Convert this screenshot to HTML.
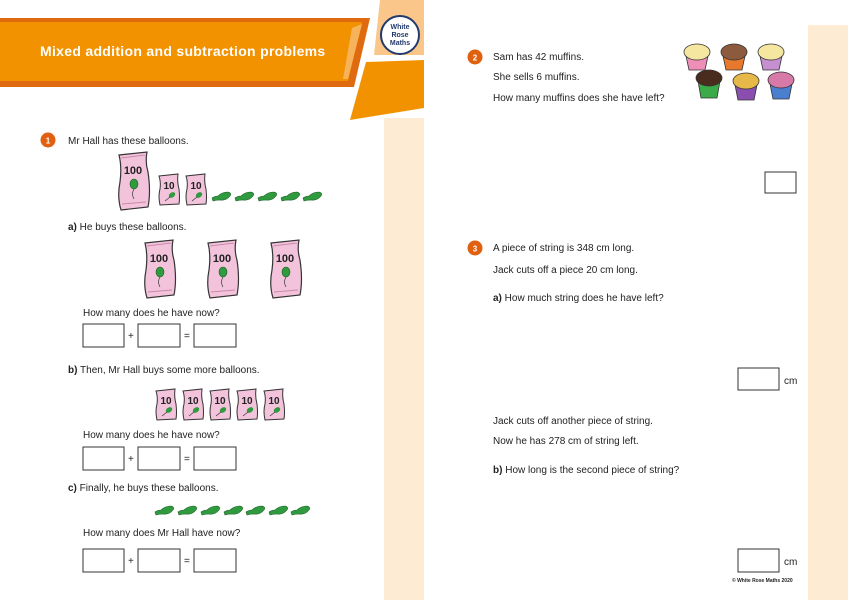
<!DOCTYPE html>
<html><head><meta charset="utf-8"><style>
html,body{margin:0;padding:0;background:#fff}
svg{display:block}
text{font-family:"Liberation Sans",sans-serif;font-size:10px;fill:#222}
</style></head><body>
<svg width="850" height="600" viewBox="0 0 850 600" xmlns="http://www.w3.org/2000/svg">
<defs>
<g id="big">
<path d="M2,3 L30,0 Q28,10 31,20 Q34,40 31,55 L4,58 Q0,45 3,30 Q5,15 2,3Z" fill="#f3c3dc" stroke="#333" stroke-width="1.2"/>
<path d="M4,6 L28,3" stroke="#c98aa9" stroke-width="1"/>
<path d="M5,52 L29,50" stroke="#c98aa9" stroke-width="1"/>
<text x="16" y="22" text-anchor="middle" style="font-size:11px;font-weight:bold;fill:#222">100</text>
<ellipse cx="17" cy="32" rx="4" ry="5" fill="#2f9a3e" stroke="#1d5e26" stroke-width=".6"/>
<path d="M17,37 Q14,42 17,47" stroke="#333" fill="none" stroke-width=".7"/>
</g>
<g id="small">
<path d="M1,2 L20,0 Q19,8 21,15 Q22,24 21,30 L2,31 Q0,22 2,15 Q3,8 1,2Z" fill="#f3c3dc" stroke="#333" stroke-width="1"/>
<text x="11" y="15" text-anchor="middle" style="font-size:10px;font-weight:bold;fill:#222">10</text>
<ellipse cx="14" cy="21" rx="3.5" ry="2.5" fill="#2f9a3e" transform="rotate(-35 14 21)"/>
<path d="M12,23 L7,27" stroke="#333" stroke-width=".7"/>
</g>
<g id="bal">
<path d="M0,6 Q3,4 6,4 Q10,0 16,0 Q20,1 18,4 Q14,9 8,8 Q4,8 1,9Z" fill="#2f9a3e" stroke="#1d5e26" stroke-width=".6"/>
</g>
</defs>

<!-- side strips -->
<rect x="384" y="118" width="40" height="482" fill="#fdebd3"/>
<rect x="808" y="25" width="40" height="575" fill="#fdebd3"/>

<!-- header shapes -->
<polygon points="380,0 424,0 424,55 374,55" fill="#fbc689"/>
<polygon points="366,62 424,60 424,108 350,120" fill="#f39200"/>
<polygon points="0,18 370,18 354,87 0,87" fill="#e06a10"/>
<polygon points="0,22 362,22 348,81 0,81" fill="#f39200"/>
<polygon points="352,28 362,24 348,79 343,79" fill="#f7b35a"/>
<text x="40" y="56" style="font-size:14px;font-weight:bold;fill:#fff;letter-spacing:.3px">Mixed addition and subtraction problems</text>
<circle cx="400" cy="35" r="19" fill="#fff" stroke="#233a6e" stroke-width="2"/>
<text x="400" y="29" text-anchor="middle" style="font-size:7px;font-weight:bold;fill:#233a6e">White</text>
<text x="400" y="37" text-anchor="middle" style="font-size:7px;font-weight:bold;fill:#233a6e">Rose</text>
<text x="400" y="45" text-anchor="middle" style="font-size:7px;font-weight:bold;fill:#233a6e">Maths</text>

<!-- Q1 -->
<circle cx="48" cy="140" r="7.5" fill="#e0600f"/>
<text x="48" y="143.5" text-anchor="middle" style="font-size:8px;font-weight:bold;fill:#fff">1</text>
<text x="68" y="144">Mr Hall has these balloons.</text>
<use href="#big" x="117" y="152"/>
<use href="#small" x="158" y="174"/>
<use href="#small" x="185" y="174"/>
<use href="#bal" x="212" y="192"/><use href="#bal" x="235" y="192"/><use href="#bal" x="258" y="192"/><use href="#bal" x="281" y="192"/><use href="#bal" x="303" y="192"/>

<text x="68" y="230"><tspan style="font-weight:bold">a)</tspan>  He buys these balloons.</text>
<use href="#big" x="143" y="240"/>
<use href="#big" x="206" y="240"/>
<use href="#big" x="269" y="240"/>
<text x="83" y="316">How many does he have now?</text>
<g fill="#fff" stroke="#333" stroke-width="1">
<rect x="83" y="324" width="41" height="23"/><rect x="138" y="324" width="42" height="23"/><rect x="194" y="324" width="42" height="23"/>
<rect x="83" y="447" width="41" height="23"/><rect x="138" y="447" width="42" height="23"/><rect x="194" y="447" width="42" height="23"/>
<rect x="83" y="549" width="41" height="23"/><rect x="138" y="549" width="42" height="23"/><rect x="194" y="549" width="42" height="23"/>
<rect x="765" y="172" width="31" height="21"/>
<rect x="738" y="368" width="41" height="22"/>
<rect x="738" y="549" width="41" height="23"/>
</g>
<text x="128" y="339">+</text><text x="184" y="339">=</text>
<text x="128" y="462">+</text><text x="184" y="462">=</text>
<text x="128" y="564">+</text><text x="184" y="564">=</text>

<text x="68" y="373"><tspan style="font-weight:bold">b)</tspan>  Then, Mr Hall buys some more balloons.</text>
<use href="#small" x="155" y="389"/><use href="#small" x="182" y="389"/><use href="#small" x="209" y="389"/><use href="#small" x="236" y="389"/><use href="#small" x="263" y="389"/>
<text x="83" y="438">How many does he have now?</text>

<text x="68" y="491"><tspan style="font-weight:bold">c)</tspan>  Finally, he buys these balloons.</text>
<use href="#bal" x="155" y="506"/><use href="#bal" x="178" y="506"/><use href="#bal" x="201" y="506"/><use href="#bal" x="224" y="506"/><use href="#bal" x="246" y="506"/><use href="#bal" x="269" y="506"/><use href="#bal" x="291" y="506"/>
<text x="83" y="536">How many does Mr Hall have now?</text>

<!-- Q2 -->
<circle cx="475" cy="57" r="7.5" fill="#e0600f"/>
<text x="475" y="60.5" text-anchor="middle" style="font-size:8px;font-weight:bold;fill:#fff">2</text>
<text x="493" y="60">Sam has 42 muffins.</text>
<text x="493" y="80">She sells 6 muffins.</text>
<text x="493" y="101">How many muffins does she have left?</text>
<!-- muffins -->
<g stroke="#333" stroke-width=".8">
<path d="M686,56 L708,56 L705,70 L689,70Z" fill="#ee8fb8"/><ellipse cx="697" cy="52" rx="13" ry="8" fill="#f6e7a0"/>
<path d="M723,56 L745,56 L742,70 L726,70Z" fill="#e8782c"/><ellipse cx="734" cy="52" rx="13" ry="8" fill="#8c5a3c"/>
<path d="M760,56 L782,56 L779,70 L763,70Z" fill="#c58fd0"/><ellipse cx="771" cy="52" rx="13" ry="8" fill="#f6e7a0"/>
<path d="M698,81 L720,81 L717,98 L701,98Z" fill="#3bab4a"/><ellipse cx="709" cy="78" rx="13" ry="8" fill="#4a2c1e"/>
<path d="M735,85 L757,85 L754,100 L738,100Z" fill="#8a4fae"/><ellipse cx="746" cy="81" rx="13" ry="8" fill="#e6b84a"/>
<path d="M770,84 L792,84 L789,99 L773,99Z" fill="#4a7fd0"/><ellipse cx="781" cy="80" rx="13" ry="8" fill="#d77aa8"/>
</g>

<!-- Q3 -->
<circle cx="475" cy="248" r="7.5" fill="#e0600f"/>
<text x="475" y="251.5" text-anchor="middle" style="font-size:8px;font-weight:bold;fill:#fff">3</text>
<text x="493" y="251">A piece of string is 348 cm long.</text>
<text x="493" y="273">Jack cuts off a piece 20 cm long.</text>
<text x="493" y="301"><tspan style="font-weight:bold">a)</tspan>  How much string does he have left?</text>
<text x="784" y="384">cm</text>
<text x="493" y="424">Jack cuts off another piece of string.</text>
<text x="493" y="444">Now he has 278 cm of string left.</text>
<text x="493" y="473"><tspan style="font-weight:bold">b)</tspan>  How long is the second piece of string?</text>
<text x="784" y="565">cm</text>
<text x="732" y="582" style="font-size:5px;font-weight:bold">© White Rose Maths 2020</text>
</svg>
</body></html>
